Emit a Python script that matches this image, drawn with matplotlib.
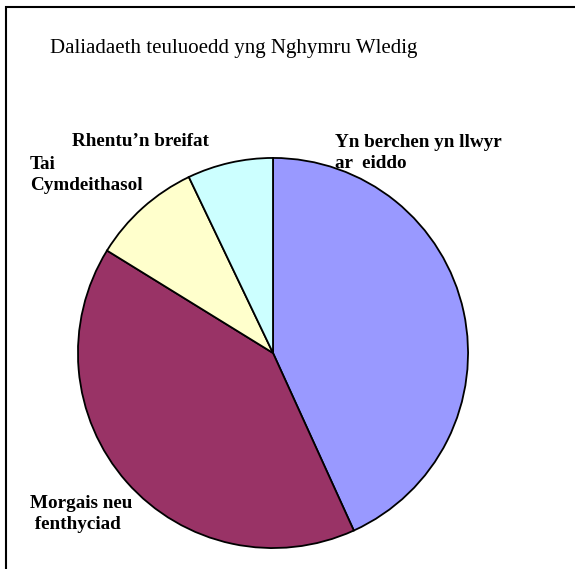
import matplotlib
matplotlib.use("Agg")
import matplotlib.pyplot as plt
from matplotlib.patches import Rectangle

# data (share of households, %)
categories = ["Yn berchen yn llwyr\nar  eiddo", "Morgais neu\n fenthyciad",
              "Tai\nCymdeithasol", "Rhentu\u2019n breifat"]
values = [43.2, 40.6, 9.1, 7.1]
colors = ["#9999FF", "#993366", "#FFFFCC", "#CCFFFF"]
title = "Daliadaeth teuluoedd yng Nghymru Wledig"

plt.rcParams["font.family"] = ["Liberation Serif", "DejaVu Serif"]

W, H = 575, 569
fig = plt.figure(figsize=(W / 100, H / 100), dpi=100)


def fx(x):
    return x / W


def fy(y):
    return 1 - y / H


# outer frame of the chart area (clipped at right and bottom)
fig.patches.append(Rectangle((fx(6), fy(H + 10)), fx(W + 20), (H + 3) / H,
                             transform=fig.transFigure, fill=False,
                             edgecolor="black", linewidth=1.5))

cx, cy, r = 273, 353, 197
ax = fig.add_axes([fx(cx - r), fy(cy + r), 2 * r / W, 2 * r / H])
ax.pie(values, colors=colors, startangle=90, counterclock=False, radius=1,
       wedgeprops=dict(edgecolor="black", linewidth=1.3))
ax.set_xlim(-1.01, 1.01)
ax.set_ylim(-1.01, 1.01)
ax.axis("off")

fig.text(fx(50), fy(48), title, fontsize=15, va="center", ha="left")

label_pos = [(335, 153), (30, 514), (30, 175), (72, 141)]
for lab, (x, y) in zip(categories, label_pos):
    fig.text(fx(x), fy(y), lab, fontsize=13.8, fontweight="bold",
             va="center", ha="left", linespacing=1.32)

fig.savefig("out.png", dpi=100, facecolor="white")
